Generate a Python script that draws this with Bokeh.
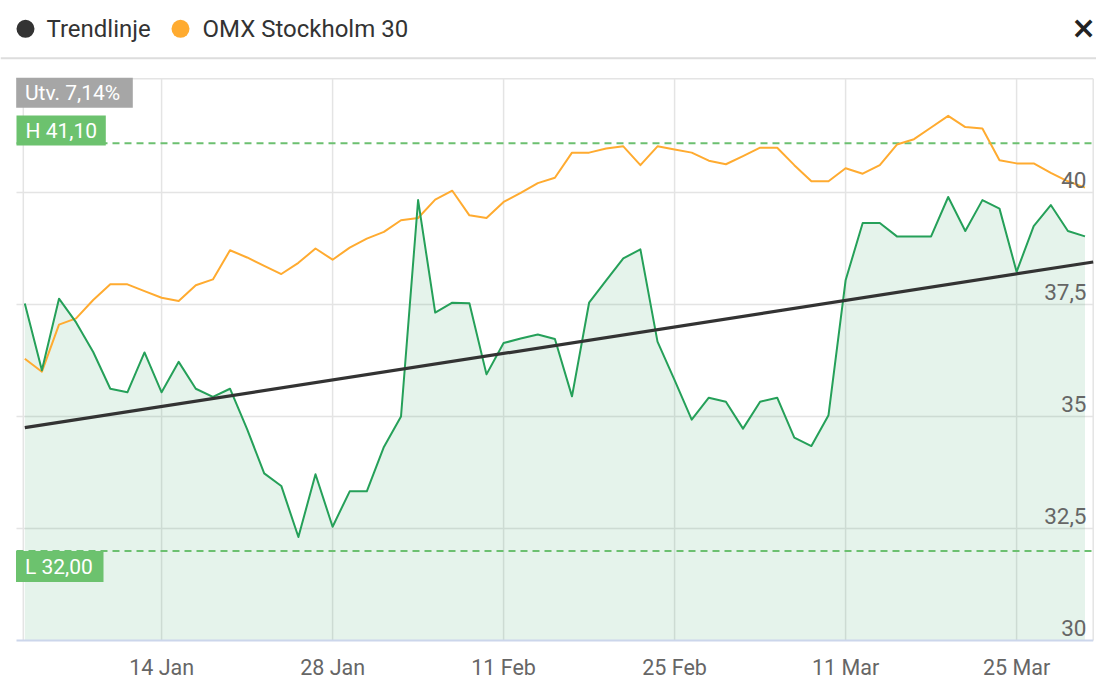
from bokeh.plotting import figure
from bokeh.models import Range1d
from bokeh.core.properties import value
from bokeh.embed import file_html
from bokeh.resources import INLINE

# ---------------- data ----------------
tick_idx = [8, 18, 28, 38, 48, 58]
tick_labels = ["14 Jan", "28 Jan", "11 Feb", "25 Feb", "11 Mar", "25 Mar"]

stock = [37.52, 36.03, 37.63, 37.10, 36.44, 35.62, 35.54, 36.43, 35.54, 36.22,
         35.62, 35.44, 35.62, 34.72, 33.73, 33.45, 32.31, 33.71, 32.54, 33.33,
         33.33, 34.32, 35.00, 39.83, 37.32, 37.54, 37.53, 35.94, 36.64, 36.74,
         36.83, 36.73, 35.45, 37.54, 38.04, 38.53, 38.73, 36.67, 35.81, 34.93,
         35.42, 35.33, 34.73, 35.33, 35.42, 34.53, 34.34, 35.03, 38.04, 39.32,
         39.32, 39.02, 39.02, 39.02, 39.90, 39.14, 39.83, 39.64, 38.23, 39.25,
         39.72, 39.14, 39.02]

omx = [36.29, 36.00, 37.05, 37.19, 37.60, 37.95, 37.95, 37.80, 37.65, 37.58,
       37.93, 38.06, 38.71, 38.55, 38.36, 38.18, 38.43, 38.75, 38.50, 38.77,
       38.97, 39.12, 39.38, 39.43, 39.84, 40.04, 39.49, 39.43, 39.79, 39.99,
       40.21, 40.33, 40.89, 40.89, 40.98, 41.03, 40.61, 41.03, 40.96, 40.89,
       40.71, 40.63, 40.81, 41.00, 41.00, 40.61, 40.25, 40.25, 40.54, 40.42,
       40.61, 41.07, 41.19, 41.45, 41.71, 41.46, 41.43, 40.72, 40.65, 40.65,
       40.44, 40.25, 40.11]

trend_x = [0, 62]
trend_y = [34.75, 38.42]

high_level = 41.10
low_level = 32.00
high_label = "H 41,10"
low_label = "L 32,00"
dev_label = "Utv. 7,14%"

y_ticks = [30, 32.5, 35, 37.5, 40]
y_tick_labels = ["30", "32,5", "35", "37,5", "40"]
legend_names = ["Trendlinje", "OMX Stockholm 30"]
legend_colors = ["#333333", "#ffab30"]

# ---------------- layout helpers (page pixels -> data) ----------------
W, H = 1096, 680
I0 = 24.3
PXI = 17.1
Y30 = 640.0
PXU = 44.8


def ix(px):
    return (px - I0) / PXI


def iy(py):
    return 30 + (Y30 - py) / PXU


x0, x1 = ix(0), ix(W)
y0, y1 = iy(H), iy(0)
idx = list(range(len(stock)))

p = figure(width=W, height=H, x_range=Range1d(x0, x1), y_range=Range1d(y0, y1),
           output_backend="svg", toolbar_location=None,
           x_axis_location=None, y_axis_location=None,
           min_border=0, outline_line_color=None,
           background_fill_color="white", border_fill_color="white")
p.min_border_left = 0
p.min_border_right = 0
p.min_border_top = 0
p.min_border_bottom = 0
p.xgrid.visible = False
p.ygrid.visible = False

GRID = "#e4e4e4"
top_v = iy(78.3)
left_b = ix(22.8)
right_b = ix(1092.7)

# vertical grid lines (plot border left/right + ticks)
vx = [left_b] + tick_idx + [right_b]
p.segment(x0=vx, y0=[30] * len(vx), x1=vx, y1=[top_v] * len(vx),
          line_color=GRID, line_width=1.5)
# horizontal grid lines
hy = y_ticks[1:] + [top_v]
p.segment(x0=[ix(16)] * len(hy), y0=hy, x1=[right_b] * len(hy), y1=hy,
          line_color=GRID, line_width=1.5)

# area + stock line
p.varea(x=idx, y1=30, y2=stock, fill_color="#2ca05a", fill_alpha=0.12)

# axis line
p.segment(x0=[ix(16)], y0=[30], x1=[right_b], y1=[30], line_color="#ccd6eb", line_width=2)

# high/low dashed levels
p.segment(x0=[ix(16), ix(16)], y0=[high_level, low_level], x1=[right_b, right_b],
          y1=[high_level, low_level], line_color="#6cc070", line_width=2, line_dash="7 5")

p.line(idx, omx, line_color="#ffab30", line_width=2, line_join="round")
p.line(idx, stock, line_color="#25a059", line_width=2, line_join="round")
slope = (trend_y[1] - trend_y[0]) / (trend_x[1] - trend_x[0])
p.line([trend_x[0], right_b], [trend_y[0], trend_y[0] + slope * (right_b - trend_x[0])],
       line_color="#333333", line_width=3.2)

# badges
p.quad(left=[ix(15.7), ix(16.0), ix(15.5)], right=[ix(132.3), ix(105.3), ix(103.0)],
       top=[iy(77.3), iy(115.0), iy(550.5)], bottom=[iy(107.3), iy(145.0), iy(581.5)],
       fill_color=["#a6a6a6", "#6cc26e", "#6cc26e"], line_color=None)
p.text(x=[ix(24.5), ix(25.0), ix(24.5)], y=[iy(92.3), iy(130.5), iy(566.5)],
       text=[dev_label, high_label, low_label], text_color="white",
       text_font=value("Roboto"), text_font_size="21px",
       text_align="left", text_baseline="middle")

# y tick labels (inside plot, right)
p.text(x=[ix(1086)] * len(y_ticks), y=y_ticks, text=y_tick_labels,
       text_color="#666666", text_font=value("Roboto"), text_font_size="22.5px",
       text_align="right", text_baseline="middle", y_offset=-13)

# x tick labels
p.text(x=tick_idx, y=[iy(667)] * len(tick_idx), text=tick_labels,
       text_color="#666666", text_font=value("Roboto"), text_font_size="21.5px",
       text_align="center", text_baseline="middle")

# legend
p.scatter(x=[ix(25), ix(180)], y=[iy(28.3)] * 2, size=18, fill_color=legend_colors,
          line_color=None)
p.text(x=[ix(46), ix(202)], y=[iy(28)] * 2, text=legend_names,
       text_color="#333333", text_font=value("Roboto"), text_font_size="24px",
       text_align="left", text_baseline="middle")

# close icon
p.text(x=[ix(1083)], y=[iy(27)], text=["×"], text_color="#222222",
       text_font=value("DejaVu Sans"), text_font_style="bold", text_font_size="30px",
       text_align="center", text_baseline="middle")

# separator under legend
p.segment(x0=[ix(0)], y0=[iy(57.7)], x1=[ix(1100)], y1=[iy(57.7)],
          line_color="#dddddd", line_width=2)

open("out.html", "w").write(file_html(p, INLINE))
